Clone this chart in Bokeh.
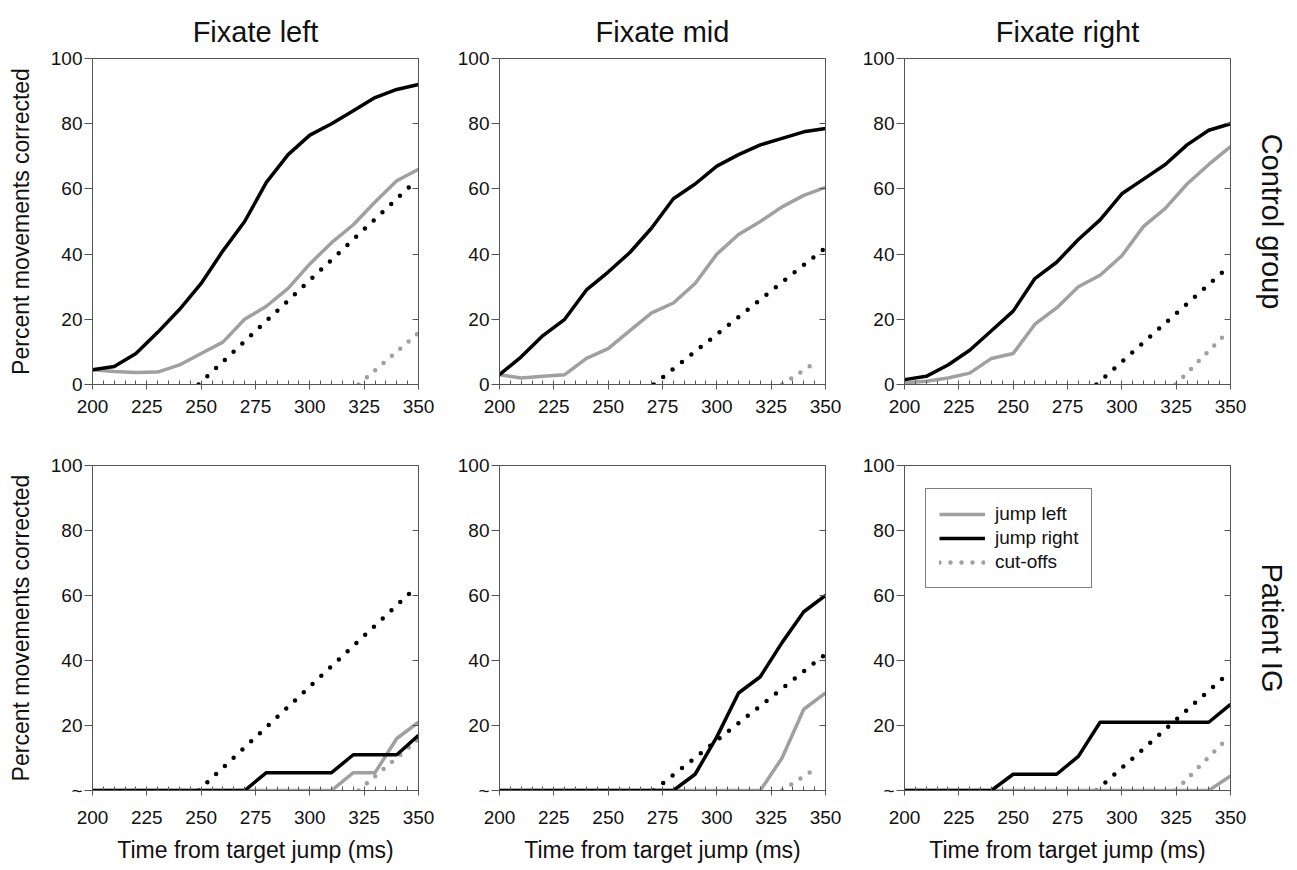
from bokeh.plotting import figure
from bokeh.layouts import row, column
from bokeh.models import FixedTicker, LinearAxis, Legend, LegendItem, Range1d
from bokeh.embed import file_html
from bokeh.resources import INLINE

# ---------------- data ----------------
time_ms = [200, 210, 220, 230, 240, 250, 260, 270, 280, 290, 300, 310, 320, 330, 340, 350]

col_titles = ["Fixate left", "Fixate mid", "Fixate right"]
row_labels = ["Control group", "Patient IG"]
x_ticks = [200, 225, 250, 275, 300, 325, 350]
y_ticks = [0, 20, 40, 60, 80, 100]

# Control group
ctrl_left_jump_left = [4.5, 4, 3.7, 3.8, 6, 9.5, 13, 20, 24, 29.5, 37, 43.5, 49, 56, 62.5, 66]
ctrl_left_jump_right = [4.5, 5.5, 9.5, 16, 23, 31, 41, 50, 62, 70.5, 76.5, 80, 84, 88, 90.5, 92]
ctrl_mid_jump_left = [3, 2, 2.5, 3, 8, 11, 16.5, 22, 25, 31, 40, 46, 50, 54.5, 58, 60.5]
ctrl_mid_jump_right = [3, 8.5, 15, 20, 29, 34.5, 40.5, 48, 57, 61.5, 67, 70.5, 73.5, 75.5, 77.5, 78.5]
ctrl_right_jump_left = [0.5, 1, 2, 3.5, 8, 9.5, 18.5, 23.5, 30, 33.5, 39.5, 48.5, 54, 61.5, 67.5, 73]
ctrl_right_jump_right = [1.5, 2.5, 6, 10.5, 16.5, 22.5, 32.5, 37.5, 44.5, 50.5, 58.5, 63, 67.5, 73.5, 78, 80]

# Patient IG
pat_left_jump_left = [0, 0, 0, 0, 0, 0, 0, 0, 0, 0, 0, 0, 5.5, 5.5, 16, 21]
pat_left_jump_right = [0, 0, 0, 0, 0, 0, 0, 0, 5.5, 5.5, 5.5, 5.5, 11, 11, 11, 17]
pat_mid_jump_left = [0, 0, 0, 0, 0, 0, 0, 0, 0, 0, 0, 0, 0, 10, 25, 30]
pat_mid_jump_right = [0, 0, 0, 0, 0, 0, 0, 0, 0, 5, 16.5, 30, 35, 45.5, 55, 60]
pat_right_jump_left = [0, 0, 0, 0, 0, 0, 0, 0, 0, 0, 0, 0, 0, 0, 0, 4.5]
pat_right_jump_right = [0, 0, 0, 0, 0, 5, 5, 5, 10.5, 21, 21, 21, 21, 21, 21, 26.5]

# Cut-off lines (start and end points), per fixation column
cut_left_dark_x = [248.8, 347.4]
cut_left_dark_y = [0, 61.6]
cut_left_grey_x = [322.4, 350]
cut_left_grey_y = [0, 15.8]
cut_mid_dark_x = [271, 349.7]
cut_mid_dark_y = [0, 41.8]
cut_mid_grey_x = [330, 346.2]
cut_mid_grey_y = [0, 7.1]
cut_right_dark_x = [288.3, 347.4]
cut_right_dark_y = [0, 35.1]
cut_right_grey_x = [324.7, 348.2]
cut_right_grey_y = [0, 15.8]

series = [
    [(ctrl_left_jump_left, ctrl_left_jump_right), (ctrl_mid_jump_left, ctrl_mid_jump_right),
     (ctrl_right_jump_left, ctrl_right_jump_right)],
    [(pat_left_jump_left, pat_left_jump_right), (pat_mid_jump_left, pat_mid_jump_right),
     (pat_right_jump_left, pat_right_jump_right)],
]
cutoffs = [
    ((cut_left_dark_x, cut_left_dark_y), (cut_left_grey_x, cut_left_grey_y)),
    ((cut_mid_dark_x, cut_mid_dark_y), (cut_mid_grey_x, cut_mid_grey_y)),
    ((cut_right_dark_x, cut_right_dark_y), (cut_right_grey_x, cut_right_grey_y)),
]

# ---------------- style ----------------
FONT = "Liberation Sans"
GREY = "#a0a0a0"
BOX = "#555555"
TXT = "#111111"
col_w = [454, 405, 438]
col_bl = [92, 44, 44]
col_br = [36, 34, 67]
row_h = [424, 446]
row_bt = [58, 41]
row_bb = [40, 80]

figs = [[], []]
for ri in range(2):
    for ci in range(3):
        p = figure(width=col_w[ci], height=row_h[ri], output_backend="svg",
                   toolbar_location=None, x_range=Range1d(200, 350), y_range=Range1d(0, 100),
                   min_border_left=col_bl[ci], min_border_right=col_br[ci],
                   min_border_top=row_bt[ri], min_border_bottom=row_bb[ri])
        p.grid.visible = False
        p.outline_line_color = BOX
        p.outline_line_width = 1
        p.background_fill_color = "white"
        p.border_fill_color = "white"

        if ri == 0:
            p.title.text = col_titles[ci]
            p.title.align = "center"
            p.title.text_font = FONT
            p.title.text_font_size = "29px"
            p.title.text_font_style = "normal"
            p.title.text_color = TXT
            p.title.standoff = 22

        # x axis
        xa = p.xaxis[0]
        xa.ticker = FixedTicker(ticks=x_ticks, minor_ticks=list(range(200, 351, 5)))
        xa.major_tick_out = 5
        xa.major_tick_in = 0
        xa.minor_tick_in = 4
        xa.minor_tick_out = 0
        xa.axis_line_color = BOX
        xa.major_tick_line_color = BOX
        xa.minor_tick_line_color = BOX
        xa.major_label_text_font = FONT
        xa.major_label_text_font_size = "19px"
        xa.major_label_text_color = TXT
        xa.major_label_standoff = 10 if ri == 0 else 15
        if ri == 1:
            xa.axis_label = "Time from target jump (ms)"
            xa.axis_label_text_font = FONT
            xa.axis_label_text_font_size = "23px"
            xa.axis_label_text_font_style = "normal"
            xa.axis_label_text_color = TXT
            xa.axis_label_standoff = 10

        # y axis
        ya = p.yaxis[0]
        ya.ticker = FixedTicker(ticks=y_ticks)
        ya.major_tick_out = 8
        ya.major_tick_in = 0
        ya.minor_tick_out = 0
        ya.minor_tick_in = 0
        ya.axis_line_color = BOX
        ya.major_tick_line_color = BOX
        ya.major_label_text_font = FONT
        ya.major_label_text_font_size = "19px"
        ya.major_label_text_color = TXT
        ya.major_label_standoff = 2
        if ri == 1:
            ya.major_label_overrides = {0: "~"}
        if ci == 0:
            ya.axis_label = "Percent movements corrected"
            ya.axis_label_text_font = FONT
            ya.axis_label_text_font_size = "23px"
            ya.axis_label_text_font_style = "normal"
            ya.axis_label_text_color = TXT
            ya.axis_label_standoff = 14

        # right axis with inward ticks
        ra = LinearAxis(ticker=FixedTicker(ticks=[20, 40, 60, 80]),
                        major_tick_in=6, major_tick_out=0, minor_tick_in=0, minor_tick_out=0,
                        major_label_overrides={20: "", 40: "", 60: "", 80: ""},
                        major_label_standoff=0, axis_line_color=BOX, major_tick_line_color=BOX)
        if ci == 2:
            ra.axis_label = row_labels[ri]
            ra.axis_label_text_font = FONT
            ra.axis_label_text_font_size = "29px"
            ra.axis_label_text_font_style = "normal"
            ra.axis_label_text_color = TXT
            ra.axis_label_standoff = 25
        p.add_layout(ra, "right")

        (cdx, cdy), (cgx, cgy) = cutoffs[ci]
        r_cg = p.line(cgx, cgy, line_color=GREY, line_width=4.5, line_dash="0 11", line_cap="round")
        r_cd = p.line(cdx, cdy, line_color="black", line_width=4.5, line_dash="0 12", line_cap="round")
        jl, jr = series[ri][ci]
        r_jl = p.line(time_ms, jl, line_color=GREY, line_width=3.5, line_join="round")
        r_jr = p.line(time_ms, jr, line_color="black", line_width=3.5, line_join="round")

        if ri == 1 and ci == 2:
            legend = Legend(items=[LegendItem(label="jump left", renderers=[r_jl]),
                                   LegendItem(label="jump right", renderers=[r_jr]),
                                   LegendItem(label="cut-offs", renderers=[r_cg])],
                            location=(21, 202))
            legend.label_text_font = FONT
            legend.label_text_font_size = "19px"
            legend.label_text_color = TXT
            legend.glyph_width = 46
            legend.glyph_height = 24
            legend.label_height = 24
            legend.label_standoff = 10
            legend.padding = 13
            legend.spacing = 0
            legend.margin = 0
            legend.border_line_color = "black"
            legend.border_line_width = 1
            legend.background_fill_alpha = 1
            p.add_layout(legend)
        figs[ri].append(p)

layout = column(row(*figs[0]), row(*figs[1]))
open("out.html", "w").write(file_html(layout, INLINE))
